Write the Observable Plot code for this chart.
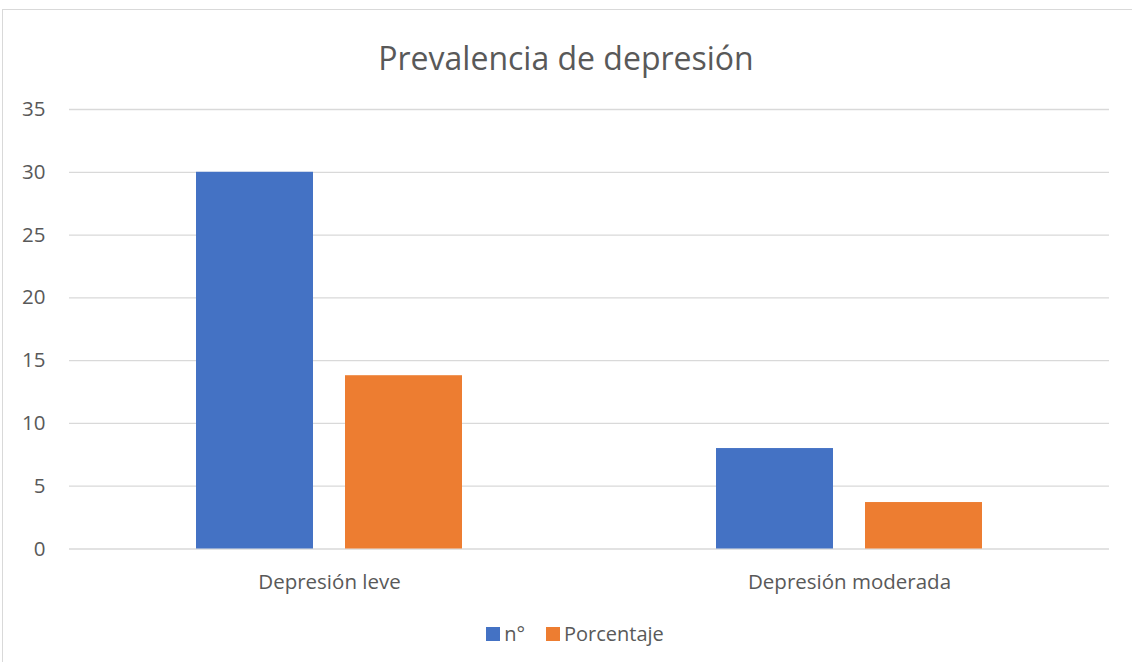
<!DOCTYPE html>
<html>
<head>
<meta charset="utf-8">
<script src="https://cdn.jsdelivr.net/npm/d3@7"></script>
<script src="https://cdn.jsdelivr.net/npm/@observablehq/plot@0.6"></script>
<style>
  html, body { margin: 0; padding: 0; background: #fff; }
  #wrap { position: relative; width: 1132px; height: 662px; overflow: hidden; font-family: "Open Sans", sans-serif; color: #595959; }
  #frame { position: absolute; left: 2px; top: 9px; width: 1140px; height: 670px; border: 1px solid #d9d9d9; box-sizing: border-box; }
  #title { position: absolute; left: 0; width: 1132px; top: 36px; text-align: center; font-size: 32px; color: #595959; }
  #chart { position: absolute; left: 0; top: 90px; }
  #chart svg text { font-size: 20.5px !important; font-family: "Open Sans", sans-serif; }
  #legend { position: absolute; top: 620px; left: 0; width: 1150px; display: flex; justify-content: center; gap: 21px; font-size: 20px; color: #595959; }
  .item { display: flex; align-items: center; gap: 4px; }
  .sw { width: 14px; height: 14px; display: inline-block; }
</style>
</head>
<body>
<div id="wrap">
  <div id="frame"></div>
  <div id="title">Prevalencia de depresión</div>
  <div id="chart"></div>
  <div id="legend"></div>
</div>
<script>
const categories = ["Depresión leve", "Depresión moderada"];
const seriesNames = ["n°", "Porcentaje"];
const nValues = [30, 8];
const pctValues = [13.8, 3.7];
const yTicks = [0, 5, 10, 15, 20, 25, 30, 35];
const colors = ["#4472C4", "#ED7D31"];

const data = [];
categories.forEach((c, i) => {
  data.push({cat: c, series: seriesNames[0], value: nValues[i]});
  data.push({cat: c, series: seriesNames[1], value: pctValues[i]});
});

const chart = Plot.plot({
  width: 1132,
  height: 520,
  marginTop: 19,
  marginBottom: 61.5,
  marginLeft: 69,
  marginRight: 23,
  style: {fontFamily: "Open Sans, sans-serif", fontSize: "20.5px", color: "#595959", background: "transparent"},
  fx: {domain: categories, padding: 0, label: null},
  x: {domain: seriesNames, paddingInner: 0.215, paddingOuter: 0.852, axis: null},
  y: {domain: [0, 35], label: null},
  color: {domain: seriesNames, range: colors},
  marks: [
    Plot.ruleY(yTicks, {stroke: "#d9d9d9", strokeWidth: 1.3}),
    Plot.barY(data, {fx: "cat", x: "series", y: "value", fill: "series"}),
    Plot.axisY({ticks: yTicks, tickSize: 0, tickPadding: 24, label: null, fill: "#595959"}),
    Plot.axisFx({anchor: "bottom", tickSize: 0, tickPadding: 25, label: null, fill: "#595959"})
  ]
});
document.getElementById("chart").appendChild(chart);

const legend = document.getElementById("legend");
seriesNames.forEach((s, i) => {
  const it = document.createElement("div");
  it.className = "item";
  const sw = document.createElement("span");
  sw.className = "sw";
  sw.style.background = colors[i];
  const t = document.createElement("span");
  t.textContent = s;
  it.appendChild(sw); it.appendChild(t);
  legend.appendChild(it);
});
</script>
</body>
</html>
